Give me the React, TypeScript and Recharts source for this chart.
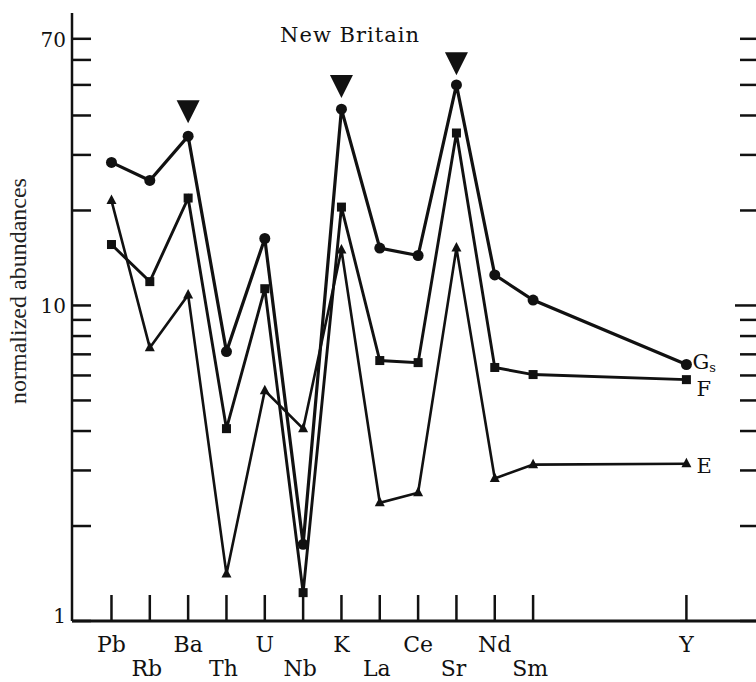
import React from 'react';
import { ComposedChart, Line, Scatter, XAxis, YAxis, LabelList, Customized } from 'recharts';

// ---- data ----
const elements = ['Pb', 'Rb', 'Ba', 'Th', 'U', 'Nb', 'K', 'La', 'Ce', 'Sr', 'Nd', 'Sm', 'Y'];
const positions = [0, 1, 2, 3, 4, 5, 6, 7, 8, 9, 10, 11, 15];
const seriesGs = [28.4, 24.9, 34.4, 7.14, 16.3, 1.75, 41.9, 15.2, 14.4, 50.0, 12.5, 10.4, 6.5];
const seriesF = [15.6, 11.9, 21.9, 4.07, 11.3, 1.23, 20.5, 6.69, 6.59, 35.2, 6.36, 6.04, 5.82];
const seriesE = [21.5, 7.35, 10.8, 1.41, 5.37, 4.07, 15.0, 2.37, 2.55, 15.2, 2.83, 3.13, 3.15];
const peakElements = ['Ba', 'K', 'Sr'];
const peakValues = [41.1, 49.4, 58.4];
const yTicks = [1, 2, 3, 4, 5, 6, 7, 8, 9, 10, 20, 30, 40, 50, 60, 70];
const yTickLabels = [1, 10, 70];
const xDomain: [number, number] = [-1.03, 16.92];
const yDomain: [number, number] = [1, 84.5];

const rows = elements.map((el, i) => ({ el, pos: positions[i], Gs: seriesGs[i], F: seriesF[i], E: seriesE[i] }));
const peakRows = peakElements.map((el, i) => ({ el, pos: positions[elements.indexOf(el)], v: peakValues[i] }));

const INK = '#111';
const SERIF = '"DejaVu Serif", "Liberation Serif", serif';

const LeftTick = (props: any) => {
  const { x, y, payload } = props;
  const v = payload.value;
  return (
    <g>
      <line x1={x} x2={x + 19} y1={y} y2={y} stroke={INK} strokeWidth={2.5} />
      {yTickLabels.includes(v) ? (
        <text x={x - 6} y={y + (v === 1 ? -5 : 1)} textAnchor="end" dominantBaseline="central" fontFamily={SERIF} fontSize={20} fill={INK}>
          {v}
        </text>
      ) : null}
    </g>
  );
};

const RightTick = (props: any) => {
  const { x, y, payload } = props;
  const len = payload.value === 10 ? 25 : 20;
  return <line x1={x - len} x2={x} y1={y} y2={y} stroke={INK} strokeWidth={2.5} />;
};

const XTick = (props: any) => {
  const { x, y, payload } = props;
  const idx = positions.indexOf(payload.value);
  const row = idx % 2;
  return (
    <g>
      <line x1={x} x2={x} y1={y} y2={y - 26} stroke={INK} strokeWidth={2.5} />
      <text x={x + (row ? -3 : 0)} y={y + (row ? 55 : 31)} textAnchor="middle" fontFamily={SERIF} fontSize={22} fill={INK}>
        {elements[idx]}
      </text>
    </g>
  );
};

const CircleDot = (props: any) => {
  const { cx, cy, index } = props;
  if (cx == null || cy == null) return <g key={index} />;
  return <circle key={index} cx={cx} cy={cy} r={5.5} fill={INK} />;
};
const SquareDot = (props: any) => {
  const { cx, cy, index } = props;
  if (cx == null || cy == null) return <g key={index} />;
  return <rect key={index} x={cx - 4.5} y={cy - 4.5} width={9} height={9} fill={INK} />;
};
const TriDot = (props: any) => {
  const { cx, cy, index } = props;
  if (cx == null || cy == null) return <g key={index} />;
  return <polygon key={index} points={`${cx},${cy - 6} ${cx - 5},${cy + 3.5} ${cx + 5},${cy + 3.5}`} fill={INK} />;
};
const DownTri = (props: any) => {
  const { cx, cy } = props;
  if (cx == null || cy == null) return <g />;
  return <polygon points={`${cx - 11.5},${cy - 11.5} ${cx + 11.5},${cy - 11.5} ${cx},${cy + 11.5}`} fill={INK} />;
};

const makeEndLabel = (name: string, sub: string | null, dx: number, dy: number) => (props: any) => {
  const { index } = props;
  if (index !== elements.length - 1) return null;
  const px = props.x ?? props.viewBox?.x;
  const py = props.y ?? props.viewBox?.y;
  return (
    <text x={px + dx} y={py + dy} fontFamily={SERIF} fontSize={21} fill={INK}>
      {name}
      {sub ? <tspan fontSize={13} dy={3}>{sub}</tspan> : null}
    </text>
  );
};

const Title = () => (
  <text x={350} y={42} textAnchor="middle" fontFamily={SERIF} fontSize={21} letterSpacing={1} fill={INK}>
    New Britain
  </text>
);

const YLabel = (props: any) => {
  const vb = props.viewBox || { x: 0, y: 13, width: 72, height: 608 };
  const lx = vb.x + 26;
  const ly = vb.y + vb.height / 2 - 26;
  return (
    <text x={lx} y={ly} transform={`rotate(-90 ${lx} ${ly})`} textAnchor="middle" fontFamily='"Liberation Serif", serif' fontSize={24} fill="#222">
      normalized abundances
    </text>
  );
};

export default function App() {
  return (
    <div style={{ width: 756, height: 682, overflow: 'hidden', position: 'relative' }}>
      <style>{'html,body{margin:0;padding:0;overflow:hidden;background:#fff}'}</style>
      <ComposedChart width={780} height={682} data={rows} margin={{ top: 13, right: 0, bottom: 0, left: 0 }}>
        <XAxis
          xAxisId="bottom"
          dataKey="pos"
          type="number"
          domain={xDomain}
          allowDataOverflow
          ticks={positions}
          interval={0}
          tickSize={0}
          tickMargin={0}
          tickLine={false}
          axisLine={{ stroke: INK, strokeWidth: 3 }}
          height={61}
          tick={XTick}
        />
        <XAxis
          xAxisId="top"
          dataKey="pos"
          orientation="top"
          type="number"
          domain={xDomain}
          allowDataOverflow
          height={0}
          tick={false}
          tickLine={false}
          axisLine={{ stroke: INK, strokeWidth: 2.5 }}
        />
        <YAxis
          yAxisId="left"
          scale="log"
          type="number"
          domain={yDomain}
          allowDataOverflow
          ticks={yTicks}
          interval={0}
          width={72}
          tickSize={0}
          tickMargin={0}
          tickLine={false}
          axisLine={{ stroke: INK, strokeWidth: 2.5 }}
          tick={LeftTick}
          label={{ content: YLabel }}
        />
        <YAxis
          yAxisId="right"
          orientation="right"
          scale="log"
          type="number"
          domain={yDomain}
          allowDataOverflow
          ticks={yTicks}
          interval={0}
          width={20}
          tickSize={0}
          tickMargin={0}
          tickLine={false}
          axisLine={{ stroke: INK, strokeWidth: 2.5 }}
          tick={RightTick}
        />
        <Line xAxisId="bottom" yAxisId="left" type="linear" dataKey="Gs" stroke={INK} strokeWidth={3.2} dot={CircleDot} activeDot={false} isAnimationActive={false}>
          <LabelList dataKey="Gs" content={makeEndLabel('G', 's', 6, 5)} />
        </Line>
        <Line xAxisId="bottom" yAxisId="left" type="linear" dataKey="F" stroke={INK} strokeWidth={2.9} dot={SquareDot} activeDot={false} isAnimationActive={false}>
          <LabelList dataKey="F" content={makeEndLabel('F', null, 10, 16)} />
        </Line>
        <Line xAxisId="bottom" yAxisId="left" type="linear" dataKey="E" stroke={INK} strokeWidth={2.6} dot={TriDot} activeDot={false} isAnimationActive={false}>
          <LabelList dataKey="E" content={makeEndLabel('E', null, 10, 9)} />
        </Line>
        <Scatter xAxisId="bottom" yAxisId="left" data={peakRows} dataKey="v" shape={DownTri} isAnimationActive={false} />
        <Customized component={<Title />} />
      </ComposedChart>
    </div>
  );
}
